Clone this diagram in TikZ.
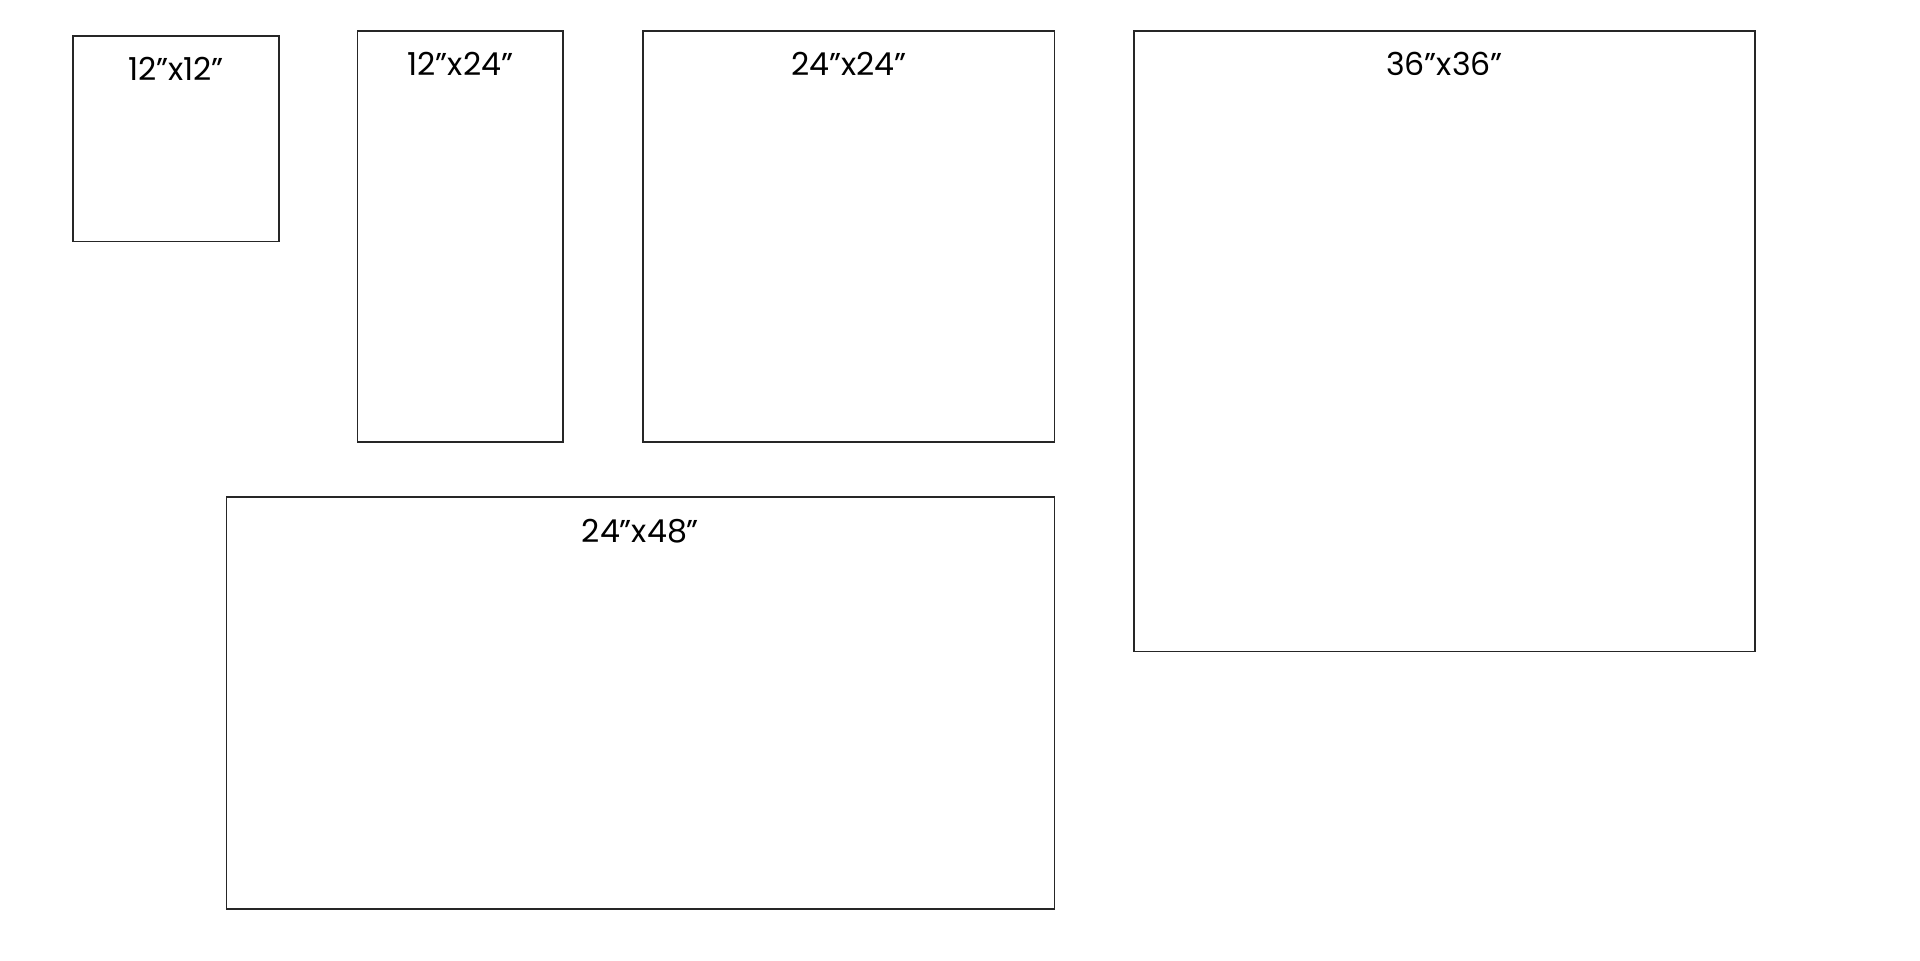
\documentclass[tikz,border=0pt]{standalone}
\usepackage{fontspec}
\setmainfont{Poppins}
\usetikzlibrary{positioning}
\newcommand{\inch}{0.2cm}

\begin{document}
\begin{tikzpicture}[x=\inch,y=\inch,node distance=4.55*\inch,
    board/.style={draw=black!85,line width=0.6pt,rectangle,inner sep=0pt},
    size/.style={anchor=north,inner sep=0pt,yshift=-7.3pt,
      font=\fontsize{10.5}{12}\selectfont}]
      \useasboundingbox (0,0) rectangle (112,-56);
      % boards, one inch = one unit
      \node[board,anchor=north west,minimum width=12*\inch,minimum height=12*\inch] (sq12) at (4.22,-2.03) {};
      \node[board,anchor=north west,minimum width=12*\inch,minimum height=24*\inch] (rect1224) at (20.8,-1.75) {};
      \node[board,right=of rect1224.north east,anchor=north west,minimum width=24*\inch,minimum height=24*\inch] (sq24) {};
      \node[board,right=of sq24.north east,anchor=north west,minimum width=36.2*\inch,minimum height=36.2*\inch] (sq36) {};
      \node[board,below=3.1*\inch of sq24.south east,anchor=north east,minimum width=48.3*\inch,minimum height=24*\inch] (rect2448) {};
      %
      \node[size] (sq12_label) at (sq12.north) {12"x12"};
      \node[size] (rect1224_label) at (rect1224.north) {12"x24"};
      \node[size] (sq24_label) at (sq24.north) {24"x24"};
      \node[size] (sq36_label) at (sq36.north) {36"x36"};
      \node[size] (rect2448_label) at (rect2448.north) {24"x48"};
\end{tikzpicture}
\end{document}
